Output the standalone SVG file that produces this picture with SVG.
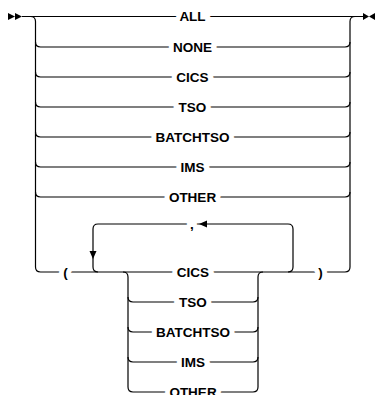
<svg xmlns="http://www.w3.org/2000/svg" width="376" height="395" viewBox="0 0 376 395">
<style>
.ln{fill:none;stroke:#000;stroke-width:1.2}
.ah{fill:#000;stroke:none}
text{font-family:"Liberation Sans",Arial,sans-serif;font-weight:bold;font-size:13.5px;fill:#000;text-anchor:middle;paint-order:stroke;stroke:#fff;stroke-width:10px;stroke-linejoin:miter}
</style>
<rect width="376" height="395" fill="#fff"/>
<g id="connectors">
<path class="ln" d="M22,16.5 H363"/>
<path class="ln" d="M30.5,16.5 Q35.5,16.5 35.5,21.5 V267 Q35.5,272 40.5,272 H345 Q350,272 350,267 V21.5 Q350,16.5 355,16.5"/>
<path class="ln" d="M35.5,42 Q35.5,47 40.5,47 H345 Q350,47 350,42"/>
<path class="ln" d="M35.5,72 Q35.5,77 40.5,77 H345 Q350,77 350,72"/>
<path class="ln" d="M35.5,102 Q35.5,107 40.5,107 H345 Q350,107 350,102"/>
<path class="ln" d="M35.5,132 Q35.5,137 40.5,137 H345 Q350,137 350,132"/>
<path class="ln" d="M35.5,162 Q35.5,167 40.5,167 H345 Q350,167 350,162"/>
<path class="ln" d="M35.5,192 Q35.5,197 40.5,197 H345 Q350,197 350,192"/>
<path class="ln" d="M98,272 Q93,272 93,267 V229 Q93,224 98,224 H288 Q293,224 293,229 V267 Q293,272 288,272"/>
<path class="ln" d="M123,272 Q128,272 128,277 V387 Q128,392 133,392 H253 Q258,392 258,387 V277 Q258,272 263,272"/>
<path class="ln" d="M128,297 Q128,302 133,302 H253 Q258,302 258,297"/>
<path class="ln" d="M128,327 Q128,332 133,332 H253 Q258,332 258,327"/>
<path class="ln" d="M128,357 Q128,362 133,362 H253 Q258,362 258,357"/>
</g>
<g id="n-all"><text x="192.5" y="21.4">ALL</text></g>
<g id="n-none"><text x="192.5" y="51.9">NONE</text></g>
<g id="n-cics"><text x="192.5" y="81.9">CICS</text></g>
<g id="n-tso"><text x="192.5" y="111.9">TSO</text></g>
<g id="n-batchtso"><text x="192.5" y="141.9">BATCHTSO</text></g>
<g id="n-ims"><text x="192.5" y="171.9">IMS</text></g>
<g id="n-other"><text x="192.5" y="201.9">OTHER</text></g>
<g id="n-lparen"><text x="65.5" y="276.9">(</text></g>
<g id="n-rparen"><text x="320.5" y="276.9">)</text></g>
<g id="n-comma"><text x="192" y="228.9" style="stroke-width:8px">,</text></g>
<g id="n-cics2"><text x="193" y="276.9">CICS</text></g>
<g id="n-tso2"><text x="193" y="306.9">TSO</text></g>
<g id="n-batchtso2"><text x="193" y="336.9">BATCHTSO</text></g>
<g id="n-ims2"><text x="193" y="366.9">IMS</text></g>
<g id="n-other2"><text x="193" y="396.9">OTHER</text></g>
<g id="arrowheads">
<path class="ah" d="M8,13 L15,16.5 L8,20 Z M15,13 L22,16.5 L15,20 Z"/>
<path class="ah" d="M363,13 L369,16.5 L363,20 Z M375,13 L369,16.5 L375,20 Z"/>
<path class="ah" d="M199,224 L207,220.5 L207,227.5 Z"/>
<path class="ah" d="M93,259 L89.5,251 L96.5,251 Z"/>
</g>
</svg>
